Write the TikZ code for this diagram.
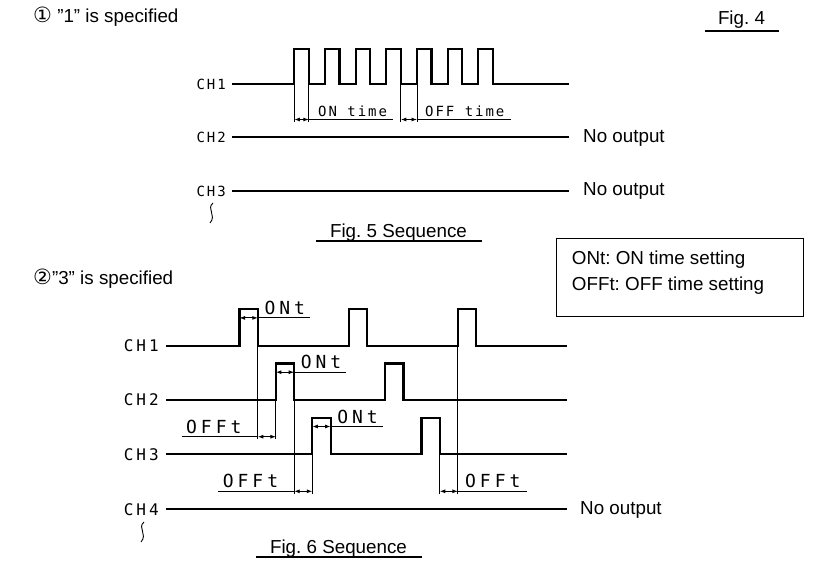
\documentclass[tikz,border=0pt]{standalone}
\usepackage{fontspec}
\setmainfont{Liberation Sans}
\newfontfamily\circfont{DejaVu Sans}
\newfontfamily\chtopfont[LetterSpace=14]{DejaVu Sans Mono}
\newfontfamily\chbotfont[LetterSpace=19]{DejaVu Sans Mono}
\newfontfamily\dimbotfont[LetterSpace=22]{DejaVu Sans Mono}
\usetikzlibrary{arrows.meta, positioning}
\frenchspacing

\tikzset{
  sig/.style={line width=2.2pt},
  ext/.style={line width=0.9pt},
  dimarrow/.style={line width=0.9pt, {Latex[length=5.5pt,width=4pt]}-{Latex[length=5.5pt,width=4pt]}},
  capline/.style={line width=1.8pt},
  txt/.style={font=\fontsize{18.8}{22}\selectfont, inner sep=0pt},
  circ/.style={font=\circfont\fontsize{21}{22}\selectfont},
  chtop/.style={font=\chtopfont\fontsize{14}{16}\selectfont, inner sep=0pt},
  chbot/.style={font=\chbotfont\fontsize{16}{18}\selectfont, inner sep=0pt},
  dimbot/.style={font=\dimbotfont\fontsize{18}{20}\selectfont, inner sep=0pt}
}

\begin{document}
\begin{tikzpicture}[x=1pt, y=-1pt]
\useasboundingbox (0,0) rectangle (818,564);

% Fig. 5: "1" is specified
\node[txt, anchor=west] (title1) at (33,16.5) {{\circfont\fontsize{21}{22}\selectfont ①} ”1” is specified};
\node[txt] (fig4) at (741.5,20) {Fig. 4};
\draw[capline] (705,31) -- (779,31);

\node[chtop, anchor=east] (t1) at (226,84) {CH1};
\node[chtop, anchor=east] (t2) at (226,137) {CH2};
\node[chtop, anchor=east] (t3) at (226,191) {CH3};
\node[txt, anchor=west] (no2) at (583,138) {No output};
\node[txt, anchor=west] (no3) at (583,191) {No output};

% CH1: seven pulses
\draw[sig] ([xshift=6pt]t1.east)
  \foreach \k in {0,...,6} { -- ({294.3+30.67*\k},84) -- ++(0,-35) -- ++(14.5,0) -- ++(0,35) }
  -- (569,84);
\draw[sig] ([xshift=6pt]t2.east) -- ([xshift=-14pt]t2.east -| no2.west);
\draw[sig] ([xshift=6pt]t3.east) -- ([xshift=-14pt]t3.east -| no3.west);
\draw[ext] (213,203) .. controls (206,209) and (217,215) .. (210,223);

% ON time / OFF time
\draw[ext] (294.3,84) -- (294.3,122) (308.8,84) -- (308.8,122);
\draw[dimarrow] (294.3,119.5) -- (308.8,119.5);
\draw[ext] (308.8,119.5) -- (393,119.5);
\node[chtop, anchor=base west] (ontime) at (318,116.5) {ON time};
\draw[ext] (400.8,84) -- (400.8,122) (417,84) -- (417,122);
\draw[dimarrow] (400.8,119.5) -- (417,119.5);
\draw[ext] (417,119.5) -- (511,119.5);
\node[chtop, anchor=base west] (offtime) at (425,116.5) {OFF time};

\node[txt] (fig5) at (398.5,233) {Fig. 5 Sequence};
\draw[capline] (316,240.7) -- (481.7,240.7);

% legend
\draw[ext] (556.7,238.3) rectangle (803.3,316);
\node[txt, anchor=west] (leg1) at (571.7,259.5) {ONt: ON time setting};
\node[txt, anchor=west] (leg2) at (571.7,285.5) {OFFt: OFF time setting};

% Fig. 6: "3" is specified
\node[txt, anchor=west] (title2) at (33,278.5) {{\circfont\fontsize{21}{22}\selectfont ②}”3” is specified};

\foreach \n/\y in {1/345.7, 2/400, 3/454.3, 4/509.3}
  \node[chbot, anchor=east] (b\n) at (159,\y) {CH\n};
\node[txt, anchor=west] (no4) at (580,510) {No output};

\foreach \n/\s/\m/\y in {1/239.5/2/345.7, 2/275.9/1/400, 3/312.3/1/454.3} {
  \draw[sig] ([xshift=7pt]b\n.east)
    \foreach \k in {0,...,\m} { -- ({\s+109.2*\k},\y) -- ++(0,-36.5) -- ++(18.3,0) -- ++(0,36.5) }
    -- (566.7,\y);
  % ONt
  \draw[dimarrow] (\s,{\y-27.8}) -- ({\s+18.3},{\y-27.8});
  \draw[ext] ({\s+18.3},{\y-27.8}) -- ({\s+70.5},{\y-27.8});
  \node[dimbot, anchor=base west] (on\n) at ({\s+24.8},{\y-31.2}) {ONt};
}
\draw[sig] ([xshift=7pt]b4.east) -- ([xshift=-13pt]b4.east -| no4.west);
\draw[ext] (144,522) .. controls (137,528) and (148,534) .. (141,542);

% OFFt
\draw[ext] (257.8,345.7) -- (257.8,439) (275.9,400) -- (275.9,439);
\draw[dimarrow] (257.8,436.7) -- (275.9,436.7);
\draw[ext] (181.7,436.7) -- (257.8,436.7);
\node[dimbot, anchor=base west] (off1) at (186,433) {OFFt};

\draw[ext] (294.2,400) -- (294.2,494) (312.3,454.3) -- (312.3,494);
\draw[dimarrow] (294.2,491.3) -- (312.3,491.3);
\draw[ext] (218.3,491.3) -- (294.2,491.3);
\node[dimbot, anchor=base west] (off2) at (222.7,487.6) {OFFt};

\draw[ext] (439.8,454.3) -- (439.8,494) (457.9,345.7) -- (457.9,494);
\draw[dimarrow] (439.8,491.3) -- (457.9,491.3);
\draw[ext] (457.9,491.3) -- (526.7,491.3);
\node[dimbot, anchor=base west] (off3) at (465,487.6) {OFFt};

\node[txt] (fig6) at (338.5,548.3) {Fig. 6 Sequence};
\draw[capline] (256,556.7) -- (421.7,556.7);
\end{tikzpicture}
\end{document}
